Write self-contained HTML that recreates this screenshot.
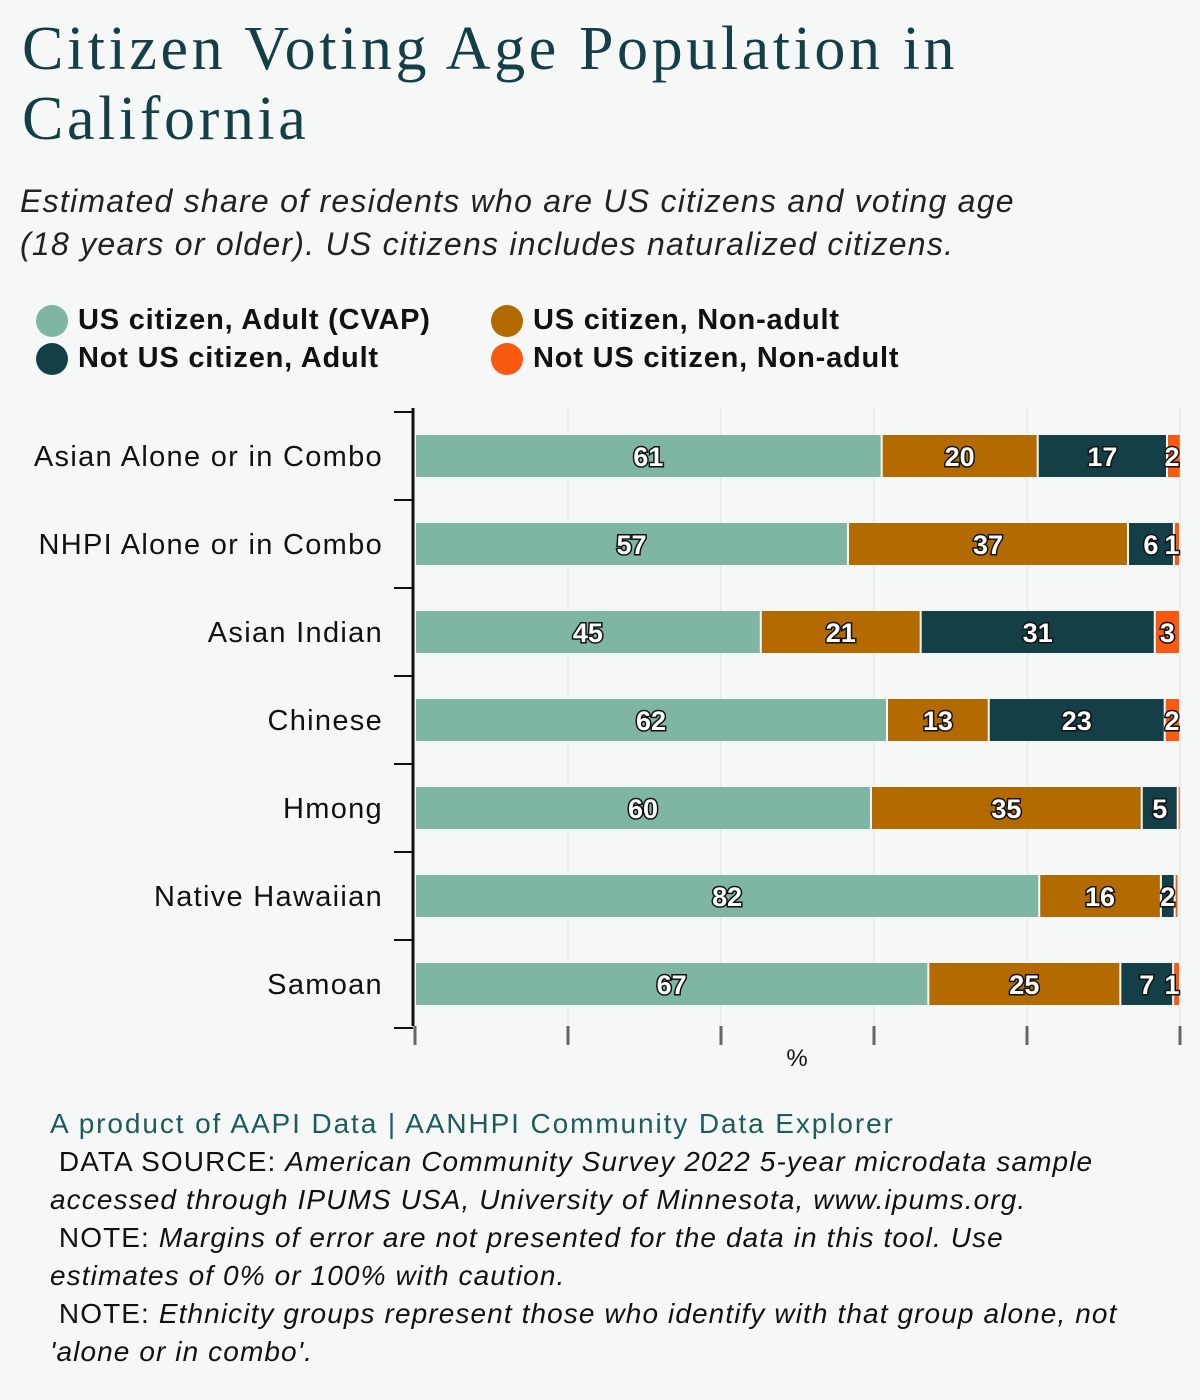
<!DOCTYPE html>
<html><head><meta charset="utf-8"><style>
body{margin:0;width:1200px;height:1400px;background:#f6f8f7;font-family:"Liberation Sans",sans-serif;color:#111;position:relative;overflow:hidden}
.t{position:absolute;left:22px;top:14px;font-family:"Liberation Serif",serif;font-size:62px;line-height:70px;color:#143f47;letter-spacing:3.6px;font-weight:bold;-webkit-text-stroke:0}
.s{position:absolute;left:20px;top:180px;font-style:italic;font-size:32px;line-height:43px;color:#222;letter-spacing:1.25px;white-space:nowrap}
.lg{position:absolute;font-weight:bold;font-size:29px;letter-spacing:0.8px;display:flex;align-items:center;white-space:nowrap}
.dot{width:32px;height:32px;border-radius:50%;margin-right:10px}
.f{position:absolute;left:50px;top:1105px;font-size:28px;line-height:38px;color:#111;letter-spacing:1.1px;white-space:nowrap}
</style></head><body>
<div class="t" style="font-weight:normal">Citizen Voting Age Population in<br>California</div>
<div class="s">Estimated share of residents who are US citizens and voting age<br>(18 years or older). US citizens includes naturalized citizens.</div>
<div class="lg" style="left:36px;top:304px"><div class="dot" style="background:#7fb5a3"></div>US citizen, Adult (CVAP)</div>
<div class="lg" style="left:36px;top:342px"><div class="dot" style="background:#143f47"></div>Not US citizen, Adult</div>
<div class="lg" style="left:491px;top:304px"><div class="dot" style="background:#b36a00"></div>US citizen, Non-adult</div>
<div class="lg" style="left:491px;top:342px"><div class="dot" style="background:#fa5a0f"></div>Not US citizen, Non-adult</div>
<svg id="c" width="1200" height="1100" style="position:absolute;left:0;top:0"></svg>
<div class="f"><span style="color:#1e5c5c;letter-spacing:1.9px">A product of AAPI Data | AANHPI Community Data Explorer</span><br>&nbsp;DATA SOURCE: <i>American Community Survey 2022 5-year microdata sample</i><br><i>accessed through IPUMS USA, University of Minnesota, www.ipums.org.</i><br>&nbsp;NOTE: <i>Margins of error are not presented for the data in this tool. Use</i><br><i>estimates of 0% or 100% with caution.</i><br>&nbsp;NOTE: <i>Ethnicity groups represent those who identify with that group alone, not</i><br><i>'alone or in combo'.</i></div>
<script>
const categories=["Asian Alone or in Combo","NHPI Alone or in Combo","Asian Indian","Chinese","Hmong","Native Hawaiian","Samoan"];
const cvap=[61,56.6,45.2,61.7,59.6,81.6,67.1];
const citizenNonAdult=[20.4,36.6,20.9,13.3,35.4,15.9,25.1];
const notCitizenAdult=[16.9,6,30.6,23,4.7,1.8,6.9];
const notCitizenNonAdult=[1.8,0.8,3.3,2,0.3,0.5,0.9];
const ticks=[0,20,40,60,80,100];
const series=[cvap,citizenNonAdult,notCitizenAdult,notCitizenNonAdult];
const colors=["#7fb5a3","#b36a00","#143f47","#fa5a0f"];
const sn=["cvap","citizen-nonadult","not-citizen-adult","not-citizen-nonadult"];
const X0=415,X1=1180,Y0=412,band=88,bh=42;
const x=v=>X0+(X1-X0)*v/100;
const yc=i=>Y0+band*i+band/2;
const svg=document.getElementById('c');const NS="http://www.w3.org/2000/svg";
function mk(t,a,p){const e=document.createElementNS(NS,t);for(const k in a)e.setAttribute(k,a[k]);(p||svg).appendChild(e);return e;}
ticks.forEach(t=>{if(t>0){const g=mk('line',{x1:x(t),x2:x(t),y1:Y0-4,y2:Y0+band*categories.length,stroke:'#e3e5e4','stroke-width':1});

}
const tk=mk('line',{x1:x(t),x2:x(t),y1:1026,y2:1045,stroke:'#666','stroke-width':3});

});
const ax=mk('line',{x1:413,x2:413,y1:408,y2:1026,stroke:'#111','stroke-width':3});


for(let i=0;i<=categories.length;i++){const t=mk('line',{x1:394,x2:413,y1:Y0+band*i,y2:Y0+band*i,stroke:'#111','stroke-width':2});

}
const pl=mk('text',{x:797,y:1066,'text-anchor':'middle','font-size':24,fill:'#111'});pl.textContent='%';


categories.forEach((c,i)=>{
const lt=mk('text',{x:383,y:yc(i)+10,'text-anchor':'end','font-size':29,'letter-spacing':1.3,fill:'#111'});lt.textContent=c;


let acc=0;
series.forEach((s,k)=>{const v=s[i];const r=mk('rect',{x:x(acc)+1,y:yc(i)-bh/2,width:Math.max(x(acc+v)-x(acc)-2,1),height:bh,fill:colors[k]});


if(v>=0.8){const tx=Math.min((x(acc)+x(acc+v))/2,1172);const lb=mk('text',{x:tx,y:yc(i)+10,'text-anchor':'middle','font-size':27,'font-weight':'bold',fill:'#fff',stroke:'#111','stroke-width':3,'paint-order':'stroke'});lb.textContent=Math.round(v);

}
acc+=v;});
});
</script>
</body></html>
